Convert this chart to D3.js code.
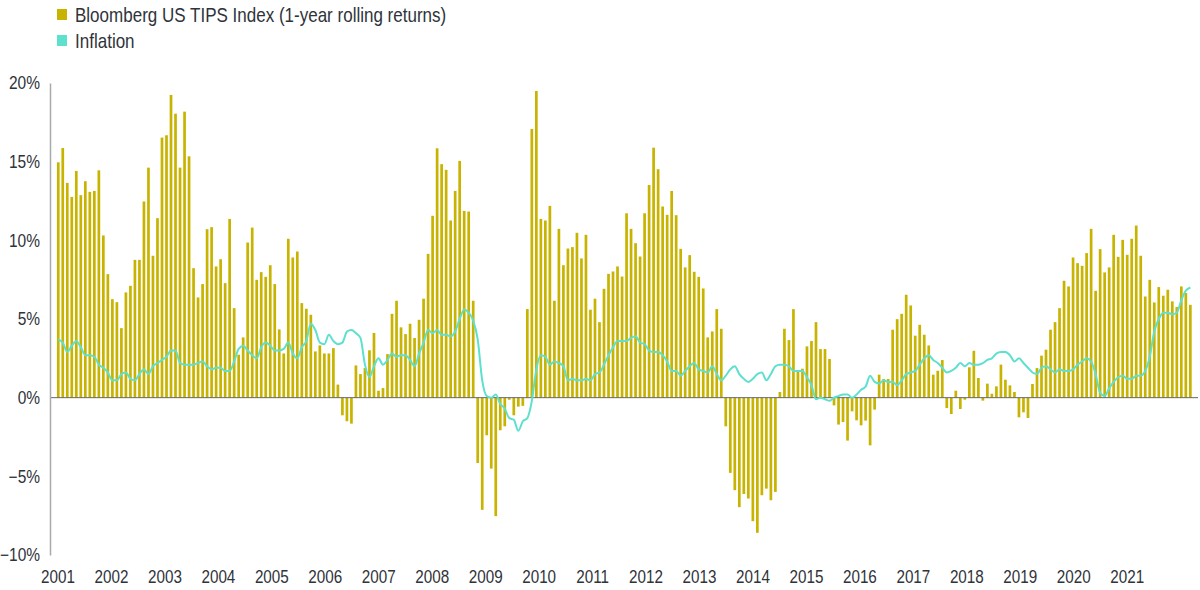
<!DOCTYPE html>
<html>
<head>
<meta charset="utf-8">
<script src="https://cdn.jsdelivr.net/npm/d3@7"></script>
<style>
  body { margin: 0; background: #fff; }
  svg text { font-family: "Liberation Sans Narrow", "Liberation Sans", sans-serif; fill: #2f333a; }
</style>
</head>
<body>
<div id="chart"></div>
<script>
//monthly values, Jan 2001 - Dec 2021, one row per year
var tipsReturns = [
  14.96, 15.87, 13.65, 12.76, 14.41, 12.87, 13.76, 13.08, 13.14, 14.45, 10.31, 7.85,
  6.26, 6.07, 4.42, 6.69, 7.11, 8.76, 8.76, 12.47, 14.62, 9.02, 11.41, 16.53,
  16.68, 19.24, 18.05, 14.62, 18.18, 15.34, 8.23, 6.37, 7.22, 10.71, 10.84, 8.34,
  8.80, 7.28, 11.36, 5.69, 2.73, 3.83, 9.86, 10.81, 7.49, 7.98, 7.68, 8.42,
  7.22, 4.34, 2.81, 10.10, 8.91, 9.29, 6.01, 5.65, 5.27, 2.94, 3.32, 2.81,
  2.81, 3.15, 0.83, -1.12, -1.50, -1.65, 2.05, 1.50, 1.88, 3.01, 4.11, 0.44,
  0.61, 2.77, 5.33, 6.16, 4.47, 4.04, 4.70, 3.79, 4.95, 6.29, 9.14, 11.56,
  15.85, 14.84, 14.48, 11.26, 13.14, 15.05, 11.87, 11.83, 6.16, -4.15, -7.13, -2.39,
  -4.51, -7.53, -2.07, -1.82, -0.13, -1.12, -0.57, -0.52, 5.63, 17.08, 19.49, 11.36,
  11.26, 12.19, 6.16, 10.73, 8.42, 9.48, 9.57, 10.48, 8.85, 10.35, 5.59, 6.29,
  4.80, 6.92, 7.87, 8.02, 8.34, 7.70, 11.72, 10.73, 9.82, 8.97, 11.72, 13.52,
  15.89, 14.52, 12.15, 11.62, 13.14, 11.60, 9.46, 8.28, 9.06, 8.00, 7.68, 6.94,
  3.83, 4.21, 5.63, 4.38, -1.82, -4.78, -5.88, -6.96, -6.12, -6.41, -7.85, -8.59,
  -6.20, -5.78, -6.52, -5.99, 0.36, 4.38, 3.66, 5.63, 1.67, 1.84, 3.26, 3.60,
  4.80, 3.09, 3.09, 2.46, -0.49, -1.71, -1.55, -2.73, -0.87, -1.44, -1.76, -1.46,
  -3.03, -0.76, 1.46, 1.19, 1.19, 4.32, 4.99, 5.33, 6.54, 5.86, 3.94, 4.63,
  4.00, 3.32, 1.46, 1.71, 2.39, -0.66, -1.04, 0.44, -0.72, -0.13, 1.93, 2.98,
  1.25, -0.19, 0.89, 0.25, 0.72, 2.10, 1.14, 0.78, 0.36, -1.25, -0.93, -1.29,
  0.87, 1.88, 2.67, 3.05, 4.32, 4.80, 5.69, 7.43, 7.07, 8.91, 8.55, 8.38,
  9.19, 10.73, 6.79, 9.44, 7.96, 8.28, 10.35, 8.95, 10.03, 9.08, 10.10, 10.94,
  9.02, 6.43, 7.49, 6.05, 7.03, 6.48, 6.86, 6.12, 5.76, 7.07, 6.65, 5.90
];

var inflation = [
  3.7, 3.5, 2.9, 3.3, 3.6, 3.2, 2.7, 2.7, 2.6, 2.1, 1.9, 1.6,
  1.1, 1.1, 1.5, 1.6, 1.2, 1.1, 1.5, 1.8, 1.5, 2.0, 2.2, 2.4,
  2.6, 3.0, 3.0, 2.2, 2.1, 2.1, 2.1, 2.2, 2.3, 2.0, 1.8, 1.9,
  1.9, 1.7, 1.7, 2.3, 3.1, 3.3, 3.0, 2.7, 2.5, 3.2, 3.5, 3.3,
  3.0, 3.0, 3.1, 3.5, 2.8, 2.5, 3.2, 3.6, 4.7, 4.3, 3.5, 3.4,
  4.0, 3.6, 3.4, 3.5, 4.2, 4.3, 4.1, 3.8, 2.1, 1.3, 2.0, 2.5,
  2.1, 2.4, 2.8, 2.6, 2.7, 2.7, 2.4, 2.0, 2.8, 3.5, 4.3, 4.1,
  4.3, 4.0, 4.0, 3.9, 4.2, 5.0, 5.6, 5.4, 4.9, 3.7, 1.1, 0.1,
  0.0, 0.2, -0.4, -0.7, -1.3, -1.4, -2.1, -1.5, -1.3, -0.2, 1.8, 2.7,
  2.6, 2.1, 2.3, 2.2, 2.0, 1.1, 1.2, 1.1, 1.1, 1.2, 1.1, 1.5,
  1.6, 2.1, 2.7, 3.2, 3.6, 3.6, 3.6, 3.8, 3.9, 3.5, 3.4, 3.0,
  2.9, 2.9, 2.7, 2.3, 1.7, 1.7, 1.4, 1.7, 2.0, 2.2, 1.8, 1.7,
  1.6, 2.0, 1.5, 1.1, 1.4, 1.8, 2.0, 1.5, 1.2, 1.0, 1.2, 1.5,
  1.6, 1.1, 1.5, 2.0, 2.1, 2.1, 2.0, 1.7, 1.7, 1.7, 1.3, 0.8,
  -0.1, 0.0, -0.1, -0.2, 0.0, 0.1, 0.2, 0.2, 0.0, 0.2, 0.5, 0.7,
  1.4, 1.0, 0.9, 1.1, 1.0, 1.0, 0.8, 1.1, 1.5, 1.6, 1.7, 2.1,
  2.5, 2.7, 2.4, 2.2, 1.9, 1.6, 1.7, 1.9, 2.2, 2.0, 2.2, 2.1,
  2.1, 2.2, 2.4, 2.5, 2.8, 2.9, 2.9, 2.7, 2.3, 2.5, 2.2, 1.9,
  1.6, 1.5, 1.9, 2.0, 1.8, 1.6, 1.8, 1.7, 1.7, 1.8, 2.1, 2.3,
  2.5, 2.3, 1.5, 0.3, 0.1, 0.6, 1.0, 1.3, 1.4, 1.2, 1.2, 1.4,
  1.4, 1.7, 2.6, 4.2, 5.0, 5.4, 5.4, 5.3, 5.4, 6.2, 6.8, 7.0
];

var yearLabels = d3.range(2001, 2022);
var yTicks = [-10, -5, 0, 5, 10, 15, 20];
var seriesNames = ["Bloomberg US TIPS Index (1-year rolling returns)", "Inflation"];

var barColor = "#c8b400";
var lineColor = "#5ee0cf";

var width = 1200, height = 590;

var svg = d3.select("#chart")
  .append("svg")
  .attr("width", width)
  .attr("height", height);

//squeeze text a bit, the original font is a condensed face
function condense(sel, k) {
  sel.each(function() {
    var w = this.getComputedTextLength();
    d3.select(this).attr("textLength", w * k).attr("lengthAdjust", "spacingAndGlyphs");
  });
}

//scales
var x = d3.scaleBand()
  .domain(d3.range(tipsReturns.length))
  .range([56, 1192.6])
  .paddingInner(0.4)
  .paddingOuter(0.2);

var y = d3.scaleLinear()
  .domain([-10, 20])
  .range([555, 83]);

//year labels sit on their own even spacing
var xYear = d3.scaleLinear()
  .domain([2001, 2021])
  .range([57.5, 1126.7]);

//bars
svg.append("g")
  .selectAll("rect")
  .data(tipsReturns)
  .enter().append("rect")
    .attr("x", function(d, i) { return x(i); })
    .attr("y", function(d) { return y(Math.max(0, d)); })
    .attr("width", x.bandwidth())
    .attr("height", function(d) { return Math.abs(y(d) - y(0)); })
    .attr("fill", barColor);

//zero line
svg.append("line")
  .attr("x1", 50)
  .attr("x2", 1198)
  .attr("y1", y(0))
  .attr("y2", y(0))
  .attr("stroke", "#666")
  .attr("stroke-width", 1);

//inflation line
var line = d3.line()
  .x(function(d, i) { return x(i) + x.bandwidth() / 2; })
  .y(function(d) { return y(d); })
  .curve(d3.curveMonotoneX);

svg.append("path")
  .datum(inflation)
  .attr("fill", "none")
  .attr("stroke", lineColor)
  .attr("stroke-width", 2)
  .attr("stroke-linejoin", "round")
  .attr("d", line);

//y axis
var yAxis = svg.append("g")
  .attr("transform", "translate(50,0)")
  .call(d3.axisLeft(y)
    .tickValues(yTicks)
    .tickSize(0)
    .tickPadding(10)
    .tickFormat(function(d) { return (d < 0 ? "\u2212" + Math.abs(d) : d) + "%"; }));

yAxis.select(".domain").attr("stroke", "#aaa").attr("stroke-width", 1.5);
yAxis.selectAll("text").attr("font-size", 18).attr("fill", "#2f333a").call(condense, 0.86);

//x axis (labels only)
var xAxis = svg.append("g")
  .attr("transform", "translate(0,568)")
  .call(d3.axisBottom(xYear)
    .tickValues(yearLabels)
    .tickSize(0)
    .tickFormat(d3.format("d")));

xAxis.select(".domain").remove();
xAxis.selectAll("text").attr("font-size", 17.5).attr("fill", "#2f333a").call(condense, 0.87);

//legend
var legend = svg.append("g")
  .selectAll("g")
  .data(seriesNames)
  .enter().append("g")
    .attr("transform", function(d, i) { return "translate(57," + (9 + i * 26) + ")"; });

legend.append("rect")
  .attr("width", 10)
  .attr("height", 11)
  .attr("fill", function(d, i) { return i ? lineColor : barColor; });

legend.append("text")
  .attr("x", 18)
  .attr("y", 13)
  .attr("font-size", 21)
  .text(function(d) { return d; })
  .call(condense, 0.81);
</script>
</body>
</html>
